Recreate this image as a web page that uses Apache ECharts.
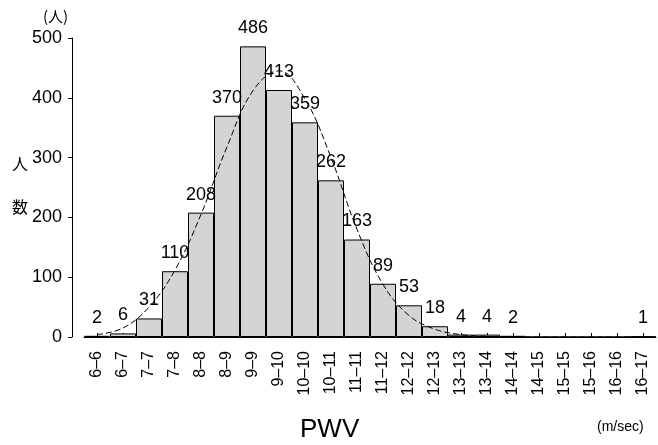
<!DOCTYPE html>
<html>
<head>
<meta charset="utf-8">
<script src="https://cdn.jsdelivr.net/npm/echarts@6/dist/echarts.min.js"></script>
<style>
html,body{margin:0;padding:0;background:#fff;}
#chart{width:658px;height:445px;}
</style>
</head>
<body>
<div id="chart"></div>
<script>
const categories = ['6–6','6–7','7–7','7–8','8–8','8–9','9–9','9–10','10–10','10–11','11–11','11–12','12–12','12–13','13–13','13–14','14–14','14–15','15–15','15–16','16–16','16–17'];
const counts = [2,6,31,110,208,370,486,413,359,262,163,89,53,18,4,4,2,0,0,0,0,1];
const fitCurve = [4,15,50,112,205,318,412,445,398,300,180,88,36,13,4,1,0,0,0,0,0,0];
const yTicks = {min:0, max:500, interval:100};

const FONT = 'Liberation Sans';
const chart = echarts.init(document.getElementById('chart'), null, {renderer:'canvas'});
chart.setOption({
  animation:false,
  backgroundColor:'#ffffff',
  grid:{left:84, right:2, top:38, bottom:108, containLabel:false},
  xAxis:{
    type:'category',
    data:categories,
    boundaryGap:true,
    axisLine:{lineStyle:{color:'#000', width:1}},
    axisTick:{show:true, alignWithLabel:true, inside:true, length:4, lineStyle:{color:'#000'}},
    axisLabel:{rotate:90, interval:0, margin:14, color:'#000', fontSize:16, fontFamily:FONT},
    splitLine:{show:false}
  },
  yAxis:{
    type:'value',
    min:yTicks.min, max:yTicks.max, interval:yTicks.interval,
    offset:12,
    axisLine:{show:true, lineStyle:{color:'#000', width:1}},
    axisTick:{show:true, length:4, lineStyle:{color:'#000'}},
    axisLabel:{color:'#000', fontSize:18, fontFamily:FONT, margin:10},
    splitLine:{show:false}
  },
  series:[
    {
      type:'bar',
      data:counts,
      barCategoryGap:'0%',
      itemStyle:{color:'#d4d4d4', borderColor:'#000', borderWidth:1},
      label:{
        show:true, position:'top', distance:9,
        color:'#000', fontSize:18, fontFamily:FONT,
        formatter:p => p.value > 0 ? String(p.value) : ''
      },
      z:2
    },
    {
      type:'line',
      data:fitCurve,
      smooth:0.4,
      symbol:'none',
      lineStyle:{color:'#000', width:1, type:[6,3]},
      z:3,
      silent:true
    }
  ],
  graphic:[
    {type:'text', left:43, top:9, style:{text:'(人)', font:'15px "Noto Sans CJK JP"', fill:'#000'}},
    {type:'text', left:12, top:156, style:{text:'人', font:'16px "Noto Sans CJK JP"', fill:'#000'}},
    {type:'text', left:12, top:199, style:{text:'数', font:'16px "Noto Sans CJK JP"', fill:'#000'}},
    {type:'text', left:300, top:417, style:{text:'PWV', font:'26px "Liberation Sans"', fill:'#000'}},
    {type:'text', left:597, top:420, style:{text:'(m/sec)', font:'14px "Liberation Sans"', fill:'#000'}}
  ]
});
</script>
</body>
</html>
